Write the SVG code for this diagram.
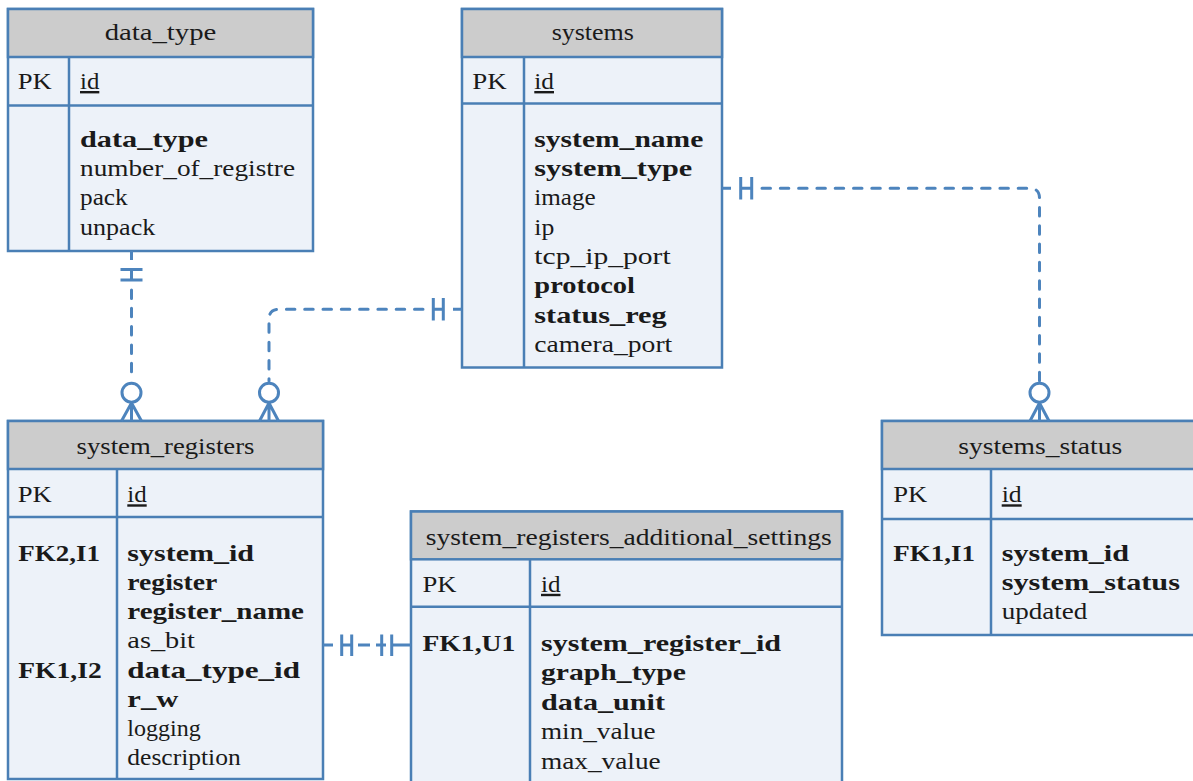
<svg xmlns="http://www.w3.org/2000/svg" width="1193" height="781" viewBox="0 0 1193 781">
<style>
.tb{fill:#edf2f9;stroke:#4a7fb5;stroke-width:2.5}
.hd{fill:#cccccc;stroke:#4a7fb5;stroke-width:2.5}
.ln{stroke:#4a7fb5;stroke-width:2.5;fill:none}
.t{font-family:'Liberation Serif','DejaVu Serif','Noto Serif','Times New Roman',serif;font-size:24px;fill:#1a1a1a}
.b{font-weight:bold}
.c{text-anchor:middle}
.u{text-decoration:underline}
.cn{fill:none;stroke:#4d84bd;stroke-width:3}
.d{stroke-dasharray:8.5 9.8;stroke-linecap:round}
.circ{fill:#ffffff;stroke:#4d84bd;stroke-width:3}
</style>
<rect width="1193" height="781" fill="#ffffff"/>

<g id="data_type" font-family="Liberation Serif, serif">
<rect class="tb" x="8" y="9" width="305" height="242"/>
<rect class="hd" x="8" y="9" width="305" height="48"/>
<line class="ln" x1="8" y1="105.5" x2="313" y2="105.5"/>
<line class="ln" x1="69" y1="57" x2="69" y2="251"/>
<text class="t c" x="160.5" y="40" textLength="111.7" lengthAdjust="spacingAndGlyphs">data_type</text>
<text class="t" x="17.7" y="89" textLength="34" lengthAdjust="spacingAndGlyphs">PK</text>
<text class="t u" x="80" y="89" textLength="19.3" lengthAdjust="spacingAndGlyphs">id</text>
<text class="t b" x="80" y="146.7" textLength="128" lengthAdjust="spacingAndGlyphs">data_type</text>
<text class="t" x="80" y="176" textLength="215" lengthAdjust="spacingAndGlyphs">number_of_registre</text>
<text class="t" x="80" y="205.3" textLength="47.7" lengthAdjust="spacingAndGlyphs">pack</text>
<text class="t" x="80" y="234.6" textLength="75.3" lengthAdjust="spacingAndGlyphs">unpack</text>
</g>

<g id="systems">
<rect class="tb" x="462" y="9" width="260" height="358.5"/>
<rect class="hd" x="462" y="9" width="260" height="48"/>
<line class="ln" x1="462" y1="103.5" x2="722" y2="103.5"/>
<line class="ln" x1="524" y1="57" x2="524" y2="367.5"/>
<text class="t c" x="592.8" y="40" textLength="82.3" lengthAdjust="spacingAndGlyphs">systems</text>
<text class="t" x="472.3" y="89" textLength="34.4" lengthAdjust="spacingAndGlyphs">PK</text>
<text class="t u" x="534.3" y="89" textLength="19.7" lengthAdjust="spacingAndGlyphs">id</text>
<text class="t b" x="534.3" y="146.7" textLength="169" lengthAdjust="spacingAndGlyphs">system_name</text>
<text class="t b" x="534.3" y="176" textLength="158" lengthAdjust="spacingAndGlyphs">system_type</text>
<text class="t" x="534.3" y="205.3" textLength="61.4" lengthAdjust="spacingAndGlyphs">image</text>
<text class="t" x="534.3" y="234.6" textLength="20" lengthAdjust="spacingAndGlyphs">ip</text>
<text class="t" x="534.3" y="263.9" textLength="136.4" lengthAdjust="spacingAndGlyphs">tcp_ip_port</text>
<text class="t b" x="534.3" y="293.2" textLength="100.7" lengthAdjust="spacingAndGlyphs">protocol</text>
<text class="t b" x="534.3" y="322.5" textLength="132.4" lengthAdjust="spacingAndGlyphs">status_reg</text>
<text class="t" x="534.3" y="351.8" textLength="138" lengthAdjust="spacingAndGlyphs">camera_port</text>
</g>

<g id="system_registers">
<rect class="tb" x="8" y="421" width="315" height="358"/>
<rect class="hd" x="8" y="421" width="315" height="48"/>
<line class="ln" x1="8" y1="517" x2="323" y2="517"/>
<line class="ln" x1="117" y1="469" x2="117" y2="779"/>
<text class="t c" x="165.5" y="454" textLength="178" lengthAdjust="spacingAndGlyphs">system_registers</text>
<text class="t" x="17.7" y="502.3" textLength="34" lengthAdjust="spacingAndGlyphs">PK</text>
<text class="t u" x="127.3" y="502.3" textLength="19.4" lengthAdjust="spacingAndGlyphs">id</text>
<text class="t b" x="18.3" y="560.7" textLength="81.7" lengthAdjust="spacingAndGlyphs">FK2,I1</text>
<text class="t b" x="18.3" y="677.5" textLength="83.4" lengthAdjust="spacingAndGlyphs">FK1,I2</text>
<text class="t b" x="127.3" y="560.7" textLength="126.7" lengthAdjust="spacingAndGlyphs">system_id</text>
<text class="t b" x="127.3" y="589.9" textLength="90" lengthAdjust="spacingAndGlyphs">register</text>
<text class="t b" x="127.3" y="619.1" textLength="176.7" lengthAdjust="spacingAndGlyphs">register_name</text>
<text class="t" x="127.3" y="648.3" textLength="67.7" lengthAdjust="spacingAndGlyphs">as_bit</text>
<text class="t b" x="127.3" y="677.5" textLength="172.7" lengthAdjust="spacingAndGlyphs">data_type_id</text>
<text class="t b" x="127.3" y="706.7" textLength="51" lengthAdjust="spacingAndGlyphs">r_w</text>
<text class="t" x="127.3" y="735.9" textLength="73.4" lengthAdjust="spacingAndGlyphs">logging</text>
<text class="t" x="127.3" y="765.1" textLength="113.4" lengthAdjust="spacingAndGlyphs">description</text>
</g>

<g id="system_registers_additional_settings">
<rect class="tb" x="411" y="511.5" width="431" height="300"/>
<rect class="hd" x="411" y="511.5" width="431" height="47.8"/>
<line class="ln" x1="411" y1="606.7" x2="842" y2="606.7"/>
<line class="ln" x1="530" y1="559.3" x2="530" y2="790"/>
<text class="t c" x="628.8" y="545" textLength="406" lengthAdjust="spacingAndGlyphs">system_registers_additional_settings</text>
<text class="t" x="422.4" y="591.8" textLength="34" lengthAdjust="spacingAndGlyphs">PK</text>
<text class="t u" x="541" y="591.8" textLength="19.5" lengthAdjust="spacingAndGlyphs">id</text>
<text class="t b" x="422.4" y="651" textLength="93" lengthAdjust="spacingAndGlyphs">FK1,U1</text>
<text class="t b" x="541" y="651" textLength="240" lengthAdjust="spacingAndGlyphs">system_register_id</text>
<text class="t b" x="541" y="680.4" textLength="145" lengthAdjust="spacingAndGlyphs">graph_type</text>
<text class="t b" x="541" y="709.8" textLength="124" lengthAdjust="spacingAndGlyphs">data_unit</text>
<text class="t" x="541" y="739.2" textLength="114.6" lengthAdjust="spacingAndGlyphs">min_value</text>
<text class="t" x="541" y="768.6" textLength="119.7" lengthAdjust="spacingAndGlyphs">max_value</text>
</g>

<g id="systems_status">
<rect class="tb" x="882" y="421" width="330" height="214"/>
<rect class="hd" x="882" y="421" width="330" height="48"/>
<line class="ln" x1="882" y1="519" x2="1212" y2="519"/>
<line class="ln" x1="991" y1="469" x2="991" y2="635"/>
<text class="t c" x="1040.3" y="454" textLength="164" lengthAdjust="spacingAndGlyphs">systems_status</text>
<text class="t" x="893.3" y="502.3" textLength="34" lengthAdjust="spacingAndGlyphs">PK</text>
<text class="t u" x="1001.7" y="502.3" textLength="20" lengthAdjust="spacingAndGlyphs">id</text>
<text class="t b" x="893.3" y="560.7" textLength="81.7" lengthAdjust="spacingAndGlyphs">FK1,I1</text>
<text class="t b" x="1001.7" y="560.7" textLength="127.3" lengthAdjust="spacingAndGlyphs">system_id</text>
<text class="t b" x="1001.7" y="589.9" textLength="178.3" lengthAdjust="spacingAndGlyphs">system_status</text>
<text class="t" x="1001.7" y="619.1" textLength="85.6" lengthAdjust="spacingAndGlyphs">updated</text>
</g>

<g id="connectors">
<path class="cn" d="M131.5,251 V260 M131.5,269.5 V280"/>
<path class="cn" d="M120.5,269.5 H142.5 M120.5,280 H142.5"/>
<path class="cn d" d="M131.5,290 V380"/>
<path class="cn" d="M131.5,403 L121.5,421 M131.5,403 V421 M131.5,403 L141.5,421"/>
<circle class="circ" cx="131.5" cy="392.7" r="9.5"/>

<path class="cn" d="M462,309.3 H453 M443.3,309.3 H433.3"/>
<path class="cn" d="M433.3,298 V320.5 M443.3,298 V320.5"/>
<path class="cn d" d="M423,309.3 H279 Q269,309.3 269,319.3 V381"/>
<path class="cn" d="M269,403 L259.5,421 M269,403 V421 M269,403 L278.5,421"/>
<circle class="circ" cx="269" cy="392.7" r="9.5"/>

<path class="cn" d="M722,188.3 H731 M740.7,188.3 H751.7"/>
<path class="cn" d="M740.7,177 V199.5 M751.7,177 V199.5"/>
<path class="cn d" d="M762,188.3 H1029.5 Q1039.5,188.3 1039.5,198.3 V381"/>
<path class="cn" d="M1039.5,403 L1030,421 M1039.5,403 V421 M1039.5,403 L1049,421"/>
<circle class="circ" cx="1039.5" cy="392.7" r="9.5"/>

<path class="cn" d="M323,645 H333 M341.7,645 H351.7 M358,645 H370 M376,645 H386 M391.7,645 H411"/>
<path class="cn" d="M341.7,634.5 V656 M351.7,634.5 V656 M381.7,634.5 V656 M391.7,634.5 V656"/>
</g>
</svg>
